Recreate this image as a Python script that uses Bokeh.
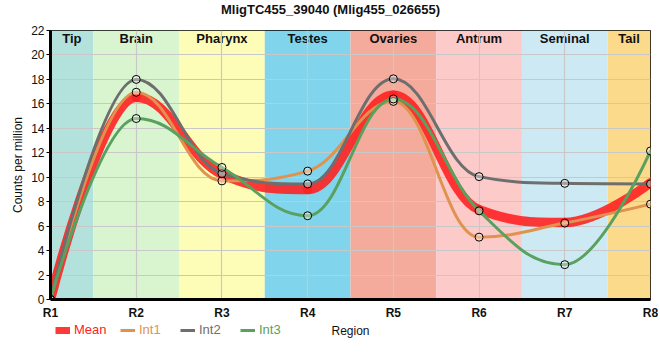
from bokeh.plotting import figure
from bokeh.models import Legend, LegendItem, ColumnDataSource, FixedTicker, Range1d, Label
from bokeh.layouts import column
from bokeh.core.properties import value
from bokeh.embed import file_html
from bokeh.resources import INLINE

regions = ["R1", "R2", "R3", "R4", "R5", "R6", "R7", "R8"]
tissues = ["Tip", "Brain", "Pharynx", "Testes", "Ovaries", "Antrum", "Seminal", "Tail"]
band_colors = ["#b3e2dd", "#d8f5d0", "#fdfdb8", "#80d4ec", "#f4ab9c", "#fdcaca", "#cdeaf4", "#fcda8c"]

mean = [0, 16.55, 10.25, 9.0, 16.7, 7.35, 6.3, 9.55]
int1 = [0, 16.95, 9.7, 10.5, 16.2, 5.1, 6.25, 7.8]
int2 = [0, 18.0, 10.3, 9.45, 18.05, 10.05, 9.5, 9.45]
int3 = [0, 14.8, 10.8, 6.85, 16.4, 7.25, 2.85, 12.15]

series_names = ["Mean", "Int1", "Int2", "Int3"]
series_colors = ["#ff2222", "#e0924f", "#6e6e6e", "#5aa05f"]
series_widths = [9.5, 3, 3, 3]

TITLE = "MligTC455_39040 (Mlig455_026655)"
FONT = "Liberation Sans"

xs = list(range(1, len(regions) + 1))


def spline_segments(x, y, smoothing=1.5):
    """Highcharts-style spline: returns bezier segment arrays."""
    n = len(x)
    denom = smoothing + 1
    lc = [(x[i], y[i]) for i in range(n)]
    rc = [(x[i], y[i]) for i in range(n)]
    for i in range(1, n - 1):
        lx, ly = x[i - 1], y[i - 1]
        nx, ny = x[i + 1], y[i + 1]
        px, py = x[i], y[i]
        lcx = (smoothing * px + lx) / denom
        lcy = (smoothing * py + ly) / denom
        rcx = (smoothing * px + nx) / denom
        rcy = (smoothing * py + ny) / denom
        if rcx != lcx:
            corr = ((rcy - lcy) * (rcx - px)) / (rcx - lcx) + py - rcy
            lcy += corr
            rcy += corr
        if lcy > ly and lcy > py:
            lcy = max(ly, py)
            rcy = 2 * py - lcy
        elif lcy < ly and lcy < py:
            lcy = min(ly, py)
            rcy = 2 * py - lcy
        if rcy > ny and rcy > py:
            rcy = max(ny, py)
            lcy = 2 * py - rcy
        elif rcy < ny and rcy < py:
            rcy = min(ny, py)
            lcy = 2 * py - rcy
        lc[i] = (lcx, lcy)
        rc[i] = (rcx, rcy)
    d = dict(x0=[], y0=[], x1=[], y1=[], cx0=[], cy0=[], cx1=[], cy1=[])
    for i in range(n - 1):
        d["x0"].append(x[i]); d["y0"].append(y[i])
        d["x1"].append(x[i + 1]); d["y1"].append(y[i + 1])
        d["cx0"].append(rc[i][0]); d["cy0"].append(rc[i][1])
        d["cx1"].append(lc[i + 1][0]); d["cy1"].append(lc[i + 1][1])
    return d


W = 658
FRAME_L, FRAME_R = 50, 8


def strip(height):
    """An axis-less figure whose frame lines up with the chart's frame (used for title / legend)."""
    s = figure(width=W, height=height, output_backend="svg", toolbar_location=None,
               x_axis_location=None, y_axis_location=None,
               x_range=Range1d(FRAME_L, W - FRAME_R), y_range=Range1d(0, height),
               min_border_left=FRAME_L, min_border_right=FRAME_R, min_border_top=0, min_border_bottom=0)
    s.grid.visible = False
    s.outline_line_color = None
    s.background_fill_alpha = 0
    s.border_fill_alpha = 0
    return s


# ---- title strip
H0 = 18
p0 = strip(H0)
p0.add_layout(Label(x=330, y=H0 / 2, text=TITLE, text_align="center", text_baseline="middle",
                    text_font=FONT, text_font_size="13px", text_font_style="bold", text_color="#111111"))

# ---- main chart
H1 = 304
p = figure(width=W, height=H1, output_backend="svg", toolbar_location=None,
           x_range=Range1d(1, 8), y_range=Range1d(0, 22),
           min_border_left=FRAME_L, min_border_right=FRAME_R, min_border_top=12, min_border_bottom=22)

# bands
band_left = [max(1, i - 0.5) for i in xs]
band_right = [min(len(xs), i + 0.5) for i in xs]
band_src = ColumnDataSource(dict(left=band_left, right=band_right, color=band_colors,
                                 cx=[(a + b) / 2 for a, b in zip(band_left, band_right)],
                                 label=tissues, top=[22] * len(xs)))
p.quad(left="left", right="right", bottom=0, top=22, fill_color="color", line_color=None,
       source=band_src, level="image")
p.text(x="cx", y="top", text="label", source=band_src, text_align="center", text_baseline="top",
       y_offset=0, text_font=value(FONT), text_font_size="13px", text_font_style="bold",
       text_color="#111111", level="image")

# grid
p.xgrid.ticker = FixedTicker(ticks=xs)
p.ygrid.ticker = FixedTicker(ticks=list(range(0, 23, 2)))
p.grid.grid_line_color = "#c8c8c8"
p.grid.grid_line_width = 1.2

# axes
p.xaxis.ticker = FixedTicker(ticks=xs)
p.xaxis.major_label_overrides = {i: r for i, r in zip(xs, regions)}
p.yaxis.ticker = FixedTicker(ticks=list(range(0, 23, 2)))
for ax in (p.xaxis[0], p.yaxis[0]):
    ax.axis_line_color = "black"
    ax.axis_line_width = 3
    ax.major_label_text_font = FONT
    ax.major_label_text_font_size = "12px"
    ax.major_label_text_color = "#111111"
    ax.minor_tick_line_color = None
    ax.minor_tick_out = 0
    ax.minor_tick_in = 0
    ax.axis_label_text_font = FONT
    ax.axis_label_text_font_size = "12px"
    ax.axis_label_text_font_style = "normal"
    ax.axis_label_text_color = "#111111"
p.xaxis.major_tick_line_color = None
p.xaxis.major_tick_out = 0
p.xaxis.major_tick_in = 0
p.xaxis.major_label_text_font_style = "bold"
p.xaxis.major_label_standoff = 6
p.yaxis.major_tick_in = 0
p.yaxis.major_tick_out = 4
p.yaxis.major_tick_line_color = "black"
p.yaxis.major_label_standoff = 2
p.yaxis.axis_label = "Counts per million"
p.yaxis.axis_label_standoff = 3

p.outline_line_color = "black"
p.outline_line_width = 1
p.outline_line_alpha = 1

# series
for name, data, color, w in zip(series_names, [mean, int1, int2, int3], series_colors, series_widths):
    seg = ColumnDataSource(spline_segments(xs, data))
    p.bezier(x0="x0", y0="y0", x1="x1", y1="y1", cx0="cx0", cy0="cy0", cx1="cx1", cy1="cy1",
             source=seg, line_color=color, line_width=w, line_cap="round",
             line_alpha=0.9 if name == "Mean" else 1.0)

for data in [int1, int2, int3]:
    p.scatter(xs, data, size=8, marker="circle", fill_color="white", fill_alpha=0.35,
              line_color="black", line_width=1)

# ---- legend strip: one legend per series so each label keeps its colour
H2 = 32
p2 = strip(H2)
# legend proxies: the series themselves, on a y range that keeps them out of view
p2.extra_y_ranges = {"hidden": Range1d(1000, 1001)}

legend_widths = [7, 3, 3, 3]
leg_x = [5, 70, 130, 190]
for name, data, color, lw, lx in zip(series_names, [mean, int1, int2, int3], series_colors,
                                     legend_widths, leg_x):
    r = p2.line(x=xs, y=data, y_range_name="hidden", line_color=color, line_width=lw,
                line_alpha=0.9 if name == "Mean" else 1.0)
    leg = Legend(items=[LegendItem(label=name, renderers=[r])], location=(lx, 17),
                 orientation="horizontal", background_fill_alpha=0, border_line_color=None,
                 padding=0, margin=0, glyph_width=15, glyph_height=14, label_standoff=4,
                 label_text_font=FONT, label_text_font_size="13px", label_text_color=color,
                 label_height=14, label_text_baseline="middle")
    p2.add_layout(leg)

p2.add_layout(Label(x=350, y=H2 - 8, text="Region", text_align="center", text_baseline="middle",
                    text_font=FONT, text_font_size="12px", text_color="#111111"))

open("out.html", "w").write(file_html(column(p0, p, p2, spacing=0), INLINE))
